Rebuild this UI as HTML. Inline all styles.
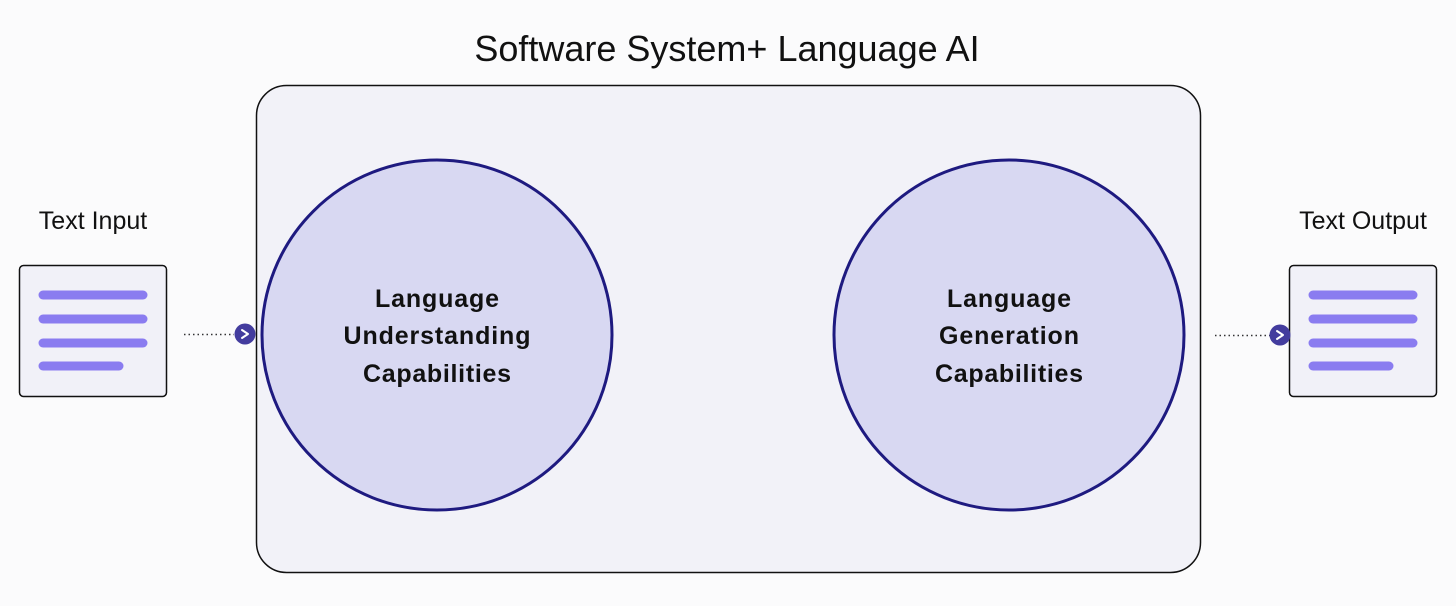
<!DOCTYPE html>
<html><head><style>
body{margin:0;background:#fbfbfc;}
</style></head><body>
<svg width="1456" height="606" viewBox="0 0 1456 606" xmlns="http://www.w3.org/2000/svg" style="display:block">
<rect width="1456" height="606" fill="#fbfbfc"/>
<text x="727" y="61" text-anchor="middle" font-family="Liberation Sans, sans-serif" font-size="36" fill="#111">Software System+ Language AI</text>
<rect x="256.5" y="85.5" width="944" height="487" rx="30" fill="#f2f2f8" stroke="#111" stroke-width="1.5"/>
<circle cx="437" cy="335" r="175" fill="#d8d8f2" stroke="#1e1a80" stroke-width="3"/>
<circle cx="1009" cy="335" r="175" fill="#d8d8f2" stroke="#1e1a80" stroke-width="3"/>
<g font-family="Liberation Sans, sans-serif" font-size="25" font-weight="bold" fill="#111" text-anchor="middle" lengthAdjust="spacingAndGlyphs">
<text x="437" y="307" textLength="124">Language</text><text x="437" y="344" textLength="187">Understanding</text><text x="437" y="382" textLength="148">Capabilities</text>
<text x="1009" y="307" textLength="124">Language</text><text x="1009" y="344" textLength="140">Generation</text><text x="1009" y="382" textLength="148">Capabilities</text>
</g>
<g font-family="Liberation Sans, sans-serif" font-size="25" fill="#111" text-anchor="middle">
<text x="93" y="229">Text Input</text><text x="1363" y="229">Text Output</text>
</g>
<g stroke="#8a7cf0" stroke-width="9" stroke-linecap="round">
<rect x="19.5" y="265.5" width="147" height="131" rx="4" fill="#f1f1f8" stroke="#111" stroke-width="1.5"/>
<line x1="43" y1="295" x2="143" y2="295"/><line x1="43" y1="319" x2="143" y2="319"/><line x1="43" y1="343" x2="143" y2="343"/><line x1="43" y1="366" x2="119" y2="366"/>
<rect x="1289.5" y="265.5" width="147" height="131" rx="4" fill="#f1f1f8" stroke="#111" stroke-width="1.5"/>
<line x1="1313" y1="295" x2="1413" y2="295"/><line x1="1313" y1="319" x2="1413" y2="319"/><line x1="1313" y1="343" x2="1413" y2="343"/><line x1="1313" y1="366" x2="1389" y2="366"/>
</g>
<g stroke="#333" stroke-width="1.5" stroke-dasharray="1.5 3">
<line x1="184" y1="334.5" x2="234" y2="334.5"/><line x1="1215" y1="335.5" x2="1270" y2="335.5"/>
</g>
<circle cx="245" cy="334" r="10.5" fill="#433c9e"/>
<circle cx="1280" cy="335" r="10.5" fill="#433c9e"/>
<g stroke="#fff" stroke-width="2" fill="none" stroke-linecap="round" stroke-linejoin="round">
<polyline points="242,330 248,334 242,338"/><polyline points="1277,331 1283,335 1277,339"/>
</g>
</svg>
</body></html>
